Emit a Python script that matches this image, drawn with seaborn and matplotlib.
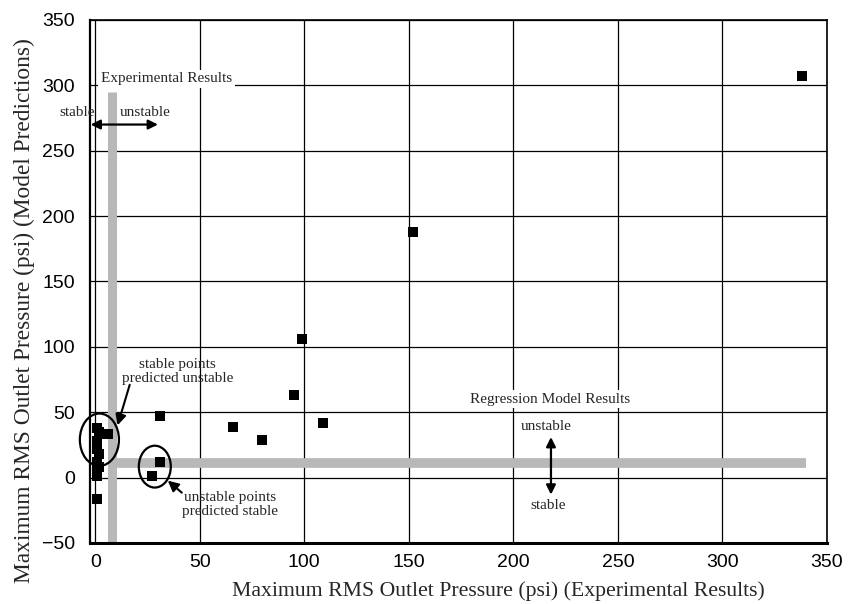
import matplotlib
matplotlib.use("Agg")
import matplotlib.pyplot as plt
from matplotlib.patches import Ellipse
from matplotlib.ticker import MultipleLocator
import seaborn as sns
import pandas as pd

# Maximum RMS outlet pressure (psi): experiment vs. model prediction
exp_x = [1, 2, 3, 6, 1, 1, 2, 1, 2, 1, 1, 1,
         27, 31, 31, 66, 80, 95, 99, 109, 152, 338]
model_y = [38, 35, 33, 33, 28, 22, 18, 12, 8, 4, 1, -16,
           1, 12, 47, 39, 29, 63, 106, 42, 188, 307]

# stability thresholds
exp_threshold = 8      # experimental results (psi)
model_threshold = 11   # regression model results (psi)

df = pd.DataFrame({"experimental": exp_x, "model": model_y})

sns.set_style("white")
serif = ["Liberation Serif", "DejaVu Serif"]
sans = ["Liberation Sans", "DejaVu Sans"]
plt.rcParams["font.family"] = sans

fig = plt.figure(figsize=(8.49, 6.04), dpi=100)
ax = fig.add_axes([0.106, 0.101, 0.868, 0.866])

ax.set_xlim(-2.5, 350)
ax.set_ylim(-50, 350)
ax.xaxis.set_major_locator(MultipleLocator(50))
ax.yaxis.set_major_locator(MultipleLocator(50))
ax.xaxis.set_minor_locator(MultipleLocator(10))
ax.yaxis.set_minor_locator(MultipleLocator(10))
ax.grid(True, which="major", color="black", linewidth=0.9, zorder=0)
ax.set_axisbelow(True)

ax.tick_params(which="major", direction="out", length=5, width=1.0,
               labelsize=14, pad=3, colors="black")
ax.tick_params(which="minor", direction="in", length=3, width=0.8)
ax.tick_params(axis="y", which="major", length=6, pad=5)

for side, lw in (("left", 1.6), ("bottom", 2.2), ("top", 1.2), ("right", 1.2)):
    ax.spines[side].set_visible(True)
    ax.spines[side].set_color("black")
    ax.spines[side].set_linewidth(lw)

band = "#b8b8b8"
ax.plot([exp_threshold, exp_threshold], [-50, 295], color=band, lw=6.5,
        solid_capstyle="butt", zorder=1)
ax.plot([exp_threshold, 340], [model_threshold, model_threshold], color=band,
        lw=7, solid_capstyle="butt", zorder=1)

sns.scatterplot(data=df, x="experimental", y="model", marker="s", s=52,
                color="black", edgecolor="black", linewidth=0, ax=ax, zorder=3,
                clip_on=False)

ax.set_xlabel("Maximum RMS Outlet Pressure (psi) (Experimental Results)",
              family=serif, fontsize=15.7, labelpad=7)
ax.set_ylabel("Maximum RMS Outlet Pressure (psi) (Model Predictions)",
              family=serif, fontsize=16.8, labelpad=5)
ax.xaxis.label.set_x(0.554)
ax.yaxis.label.set_y(0.445)

txt = dict(family=serif, fontsize=11, ha="center", va="center", zorder=4)
white = dict(facecolor="white", edgecolor="none", pad=2)

ax.text(34, 305, "Experimental Results", bbox=white, **txt)
ax.text(-8.5, 279, "stable", clip_on=False, **txt)
ax.text(24, 279, "unstable", **txt)
ax.annotate("", xy=(-2.2, 270), xytext=(30, 270), annotation_clip=False,
            arrowprops=dict(arrowstyle="<|-|>", color="black", lw=1.6,
                            mutation_scale=14, shrinkA=0, shrinkB=0), zorder=4)

ax.text(39.5, 81, "stable points\npredicted unstable", linespacing=1.15, **txt)
ax.annotate("", xy=(10.7, 40), xytext=(16.5, 71),
            arrowprops=dict(arrowstyle="-|>", color="black", lw=1.5,
                            mutation_scale=16, shrinkA=0, shrinkB=0), zorder=4)
ax.add_patch(Ellipse((2, 29), 18.7, 40, fill=False, edgecolor="black",
                     lw=1.6, zorder=4, clip_on=False))

ax.text(64.5, -20.5, "unstable points\npredicted stable", linespacing=1.1, **txt)
ax.annotate("", xy=(34.7, -2.3), xytext=(41.4, -11.5),
            arrowprops=dict(arrowstyle="-|>", color="black", lw=1.5,
                            mutation_scale=16, shrinkA=0, shrinkB=0), zorder=4)
ax.add_patch(Ellipse((28.5, 8.4), 15.3, 32, fill=False, edgecolor="black",
                     lw=1.6, zorder=4))

ax.text(217.5, 60, "Regression Model Results", bbox=white, **txt)
ax.text(215.5, 39, "unstable", **txt)
ax.text(216.5, -21.5, "stable", **txt)
ax.annotate("", xy=(218, 31), xytext=(218, -13),
            arrowprops=dict(arrowstyle="<|-|>", color="black", lw=1.6,
                            mutation_scale=14, shrinkA=0, shrinkB=0), zorder=4)

fig.savefig("out.png", dpi=100)
